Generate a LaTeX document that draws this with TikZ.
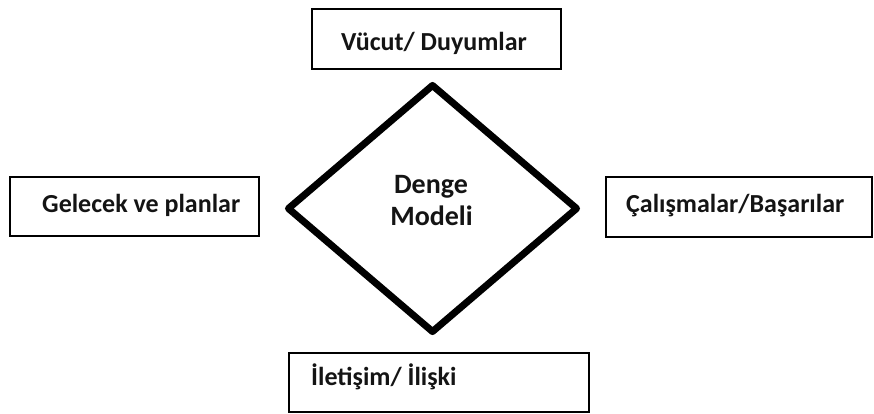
\documentclass[tikz,border=0pt]{standalone}
\usepackage{fontspec}
\setmainfont{Carlito}
\usetikzlibrary{shapes.geometric}
\begin{document}
\begin{tikzpicture}[x=1pt,y=-1pt,
  box/.style={draw=black, line width=1.6pt, rectangle, inner sep=0pt},
  lbl/.style={font=\fontsize{26}{30}\selectfont\bfseries, text=black!92, inner sep=0pt, anchor=base west},
  dlbl/.style={font=\fontsize{28}{32}\selectfont\bfseries, text=black!92, inner sep=0pt, anchor=base},
  dia/.style={draw=black, shape=diamond, line width=7pt, line join=round, inner sep=0pt}
]
\useasboundingbox (0,0) rectangle (874,413);
% boxes
\node[box, minimum width=249pt, minimum height=60pt] (top) at (436.5,39) {};
\node[box, minimum width=249pt, minimum height=59pt] (left) at (134.5,206.5) {};
\node[box, minimum width=266pt, minimum height=60pt] (right) at (739,207) {};
\node[box, minimum width=300pt, minimum height=59pt] (bottom) at (439,382.5) {};
% diamond
\node[dia, minimum width=291pt, minimum height=249pt] (center) at (432.5,208.5) {};
% labels
\node[lbl] (ttop) at (341,50) {Vücut/ Duyumlar};
\node[lbl] (tleft) at (42,212) {Gelecek ve planlar};
\node[lbl] (tright) at (626,212) {Çalışmalar/Başarılar};
\node[lbl] (tbottom) at (311,385) {İletişim/ İlişki};
\node[dlbl] (d1) at (431,193) {Denge};
\node[dlbl] (d2) at (431.5,225) {Modeli};
\end{tikzpicture}
\end{document}
